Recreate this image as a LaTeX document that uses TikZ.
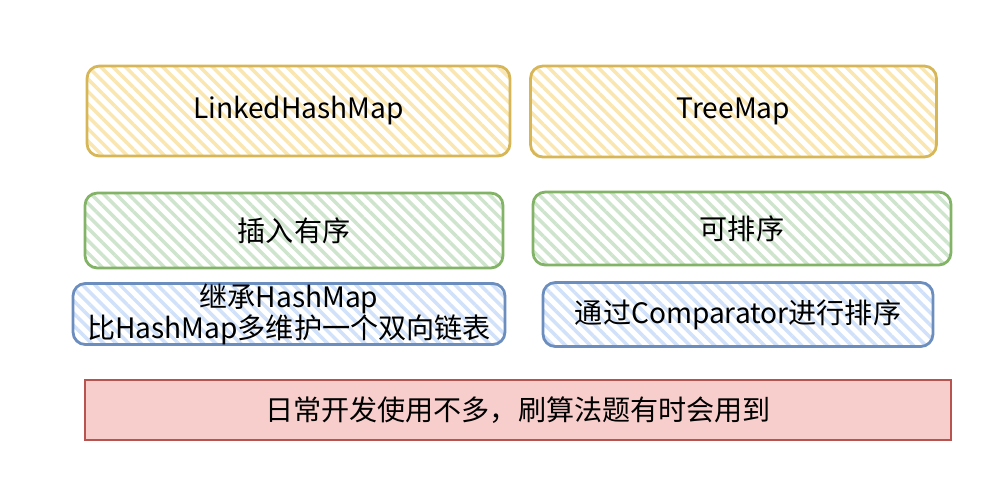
\documentclass[tikz,border=0pt]{standalone}
\usepackage{fontspec}
\setmainfont{Noto Sans CJK SC}
\usetikzlibrary{patterns.meta}
\definecolor{yelDraw}{HTML}{D6B656}
\definecolor{yelHatch}{HTML}{F9E6B0}
\definecolor{grnDraw}{HTML}{82B366}
\definecolor{grnHatch}{HTML}{CFE4CD}
\definecolor{bluDraw}{HTML}{6C8EBF}
\definecolor{bluHatch}{HTML}{D0E1F9}
\definecolor{redDraw}{HTML}{B85450}
\definecolor{redFill}{HTML}{F8CECC}
\tikzset{
  hatchbox/.style={draw, rounded corners=7pt, line width=1.6pt,
    pattern={Lines[angle=-45,distance=5pt,line width=2pt]}},
  yelbox/.style={hatchbox, draw=yelDraw, pattern color=yelHatch},
  grnbox/.style={hatchbox, draw=grnDraw, pattern color=grnHatch},
  blubox/.style={hatchbox, draw=bluDraw, pattern color=bluHatch},
  redbox/.style={draw=redDraw, fill=redFill, line width=0.9pt}
}
\begin{document}
\begin{tikzpicture}[x=0.02cm,y=-0.02cm,
    every node/.style={inner sep=0, align=center, font=\fontsize{16}{17.6}\selectfont}]
  \useasboundingbox (0,0) rectangle (1000,488);
  % top row: the two maps
  \node[yelbox, minimum width=8.46cm, minimum height=1.8cm] (lhm) at (298.5,111){LinkedHashMap};
  \node[yelbox, minimum width=8.12cm, minimum height=1.82cm] (tm) at (733.5,111.5){TreeMap};

  % ordering
  \node[grnbox, minimum width=8.36cm, minimum height=1.5cm] (lhmorder) at (294,230.5){插入有序};
  \node[grnbox, minimum width=8.36cm, minimum height=1.46cm] (tmorder) at (742,228.5){可排序};

  % how it is done
  \node[blubox, minimum width=8.64cm, minimum height=1.16cm] (lhmnote) at (289,314){继承HashMap\\比HashMap多维护一个双向链表};
  \node[blubox, minimum width=7.8cm, minimum height=1.28cm] (tmnote) at (738,314.5){通过Comparator进行排序};

  % usage
  \node[redbox, minimum width=17.32cm, minimum height=1.2cm] (usage) at (518,410){日常开发使用不多，刷算法题有时会用到};
\end{tikzpicture}
\end{document}
